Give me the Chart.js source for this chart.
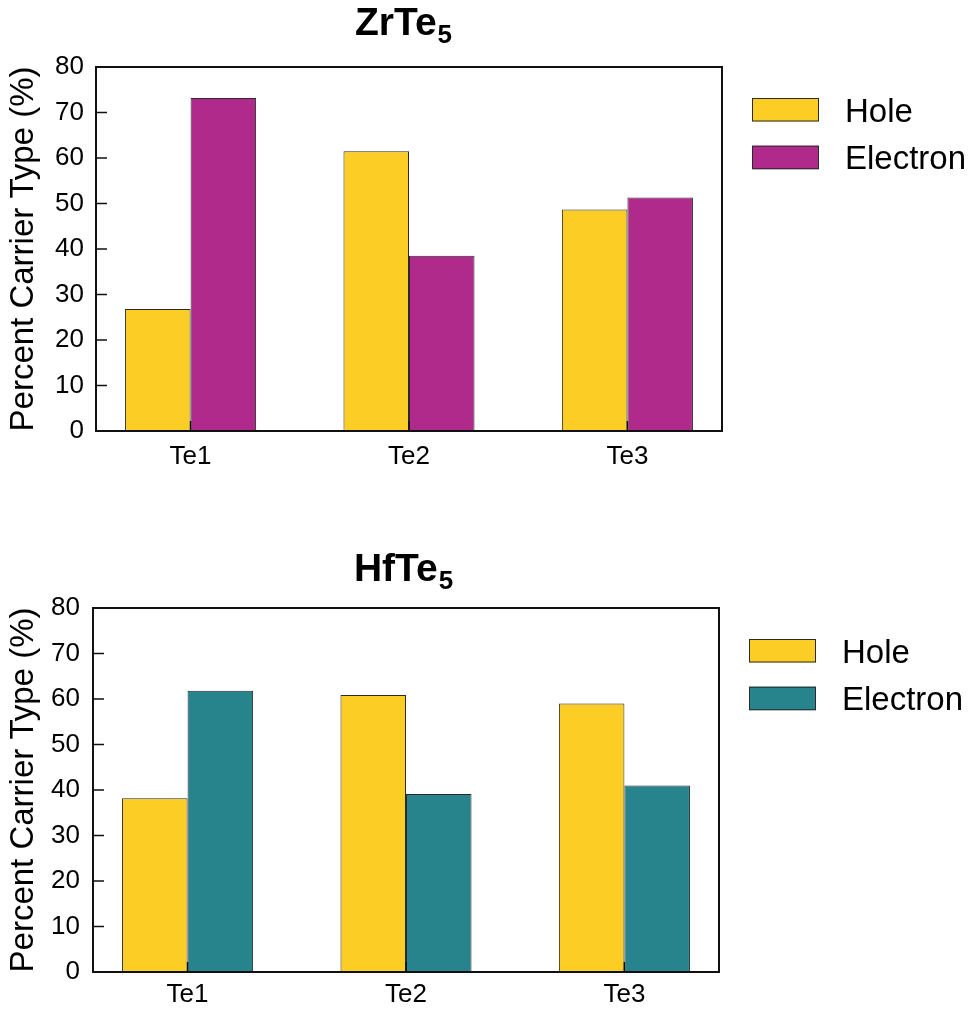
<!DOCTYPE html>
<html>
<head>
<meta charset="utf-8">
<script src="https://cdn.jsdelivr.net/npm/chart.js@4.4.0/dist/chart.umd.min.js"></script>
<style>
  html, body { margin: 0; padding: 0; background: #fff; }
  .wrap { position: relative; width: 974px; height: 1013px; }
  canvas { position: absolute; left: 0; }
  #zr-chart { top: 0; }
  #hf-chart { top: 500px; }
</style>
</head>
<body>
<div class="wrap">
  <canvas id="zr-chart" width="974" height="500"></canvas>
  <canvas id="hf-chart" width="974" height="513"></canvas>
</div>
<script>
const sites = ['Te1', 'Te2', 'Te3'];
const seriesNames = ['Hole', 'Electron'];

const zrHole = [26.8, 61.5, 48.7];
const zrElectron = [73.2, 38.5, 51.3];
const hfHole = [38.2, 60.9, 59.0];
const hfElectron = [61.8, 39.1, 41.0];

const holeColor = '#fccd25';
const zrElectronColor = '#b02a8c';
const hfElectronColor = '#27848d';
const edgeColor = '#2a2a2a';

const fontFamily = '"Liberation Sans", Arial, Helvetica, sans-serif';

// box round the plot, ticks pointing inward
const frameTicks = {
    id: 'frameTicks',
    afterDatasetsDraw(chart) {
        const {ctx, chartArea: a, scales: {x, y}} = chart;
        ctx.save();
        ctx.strokeStyle = '#111';
        ctx.lineWidth = 1.5;
        ctx.beginPath();
        y.ticks.forEach(t => {
            const py = y.getPixelForValue(t.value);
            ctx.moveTo(a.left, py);
            ctx.lineTo(a.left + 11, py);
        });
        x.ticks.forEach(t => {
            const px = x.getPixelForValue(t.value);
            ctx.moveTo(px, a.bottom);
            ctx.lineTo(px, a.bottom - 10);
        });
        ctx.stroke();
        ctx.lineWidth = 2;
        ctx.strokeRect(a.left, a.top, a.right - a.left, a.bottom - a.top);
        ctx.restore();
    }
};

// legend sits to the right of the frame, near its top
const sideLegend = {
    id: 'sideLegend',
    afterDraw(chart) {
        const {ctx, chartArea: a} = chart;
        ctx.save();
        chart.data.datasets.forEach((ds, i) => {
            const bx = a.right + 30;
            const by = a.top + 31 + i * 47.7;
            ctx.fillStyle = ds.backgroundColor;
            ctx.fillRect(bx, by, 67, 23.5);
            ctx.strokeStyle = edgeColor;
            ctx.lineWidth = 1;
            ctx.strokeRect(bx + 0.5, by + 0.5, 66, 22.5);
            ctx.fillStyle = '#000';
            ctx.font = '33px ' + fontFamily;
            ctx.textBaseline = 'alphabetic';
            ctx.fillText(ds.label, bx + 93, by + 23.5);
        });
        ctx.restore();
    }
};

// chemical formula title with a subscript
const formulaTitle = {
    id: 'formulaTitle',
    afterDraw(chart, args, opts) {
        const ctx = chart.ctx;
        ctx.save();
        ctx.fillStyle = '#000';
        ctx.textBaseline = 'alphabetic';
        ctx.font = 'bold 39px ' + fontFamily;
        const w1 = ctx.measureText(opts.main).width;
        ctx.font = 'bold 26px ' + fontFamily;
        const w2 = ctx.measureText(opts.sub).width;
        const x0 = opts.x - (w1 + w2) / 2;
        ctx.font = 'bold 39px ' + fontFamily;
        ctx.fillText(opts.main, x0, opts.y);
        ctx.font = 'bold 26px ' + fontFamily;
        ctx.fillText(opts.sub, x0 + w1 + 1, opts.y + 8);
        ctx.restore();
    }
};

function buildChart(id, hole, electron, electronColor, box) {
    const canvas = document.getElementById(id);
    const toPoints = vals => sites.map((s, i) => ({x: i + 1, y: vals[i]}));
    return new Chart(canvas, {
        type: 'bar',
        data: {
            datasets: [
                {
                    label: seriesNames[0],
                    data: toPoints(hole),
                    backgroundColor: holeColor,
                    borderColor: edgeColor,
                    borderWidth: 1
                },
                {
                    label: seriesNames[1],
                    data: toPoints(electron),
                    backgroundColor: electronColor,
                    borderColor: edgeColor,
                    borderWidth: 1
                }
            ]
        },
        options: {
            responsive: false,
            animation: false,
            categoryPercentage: 0.6,
            barPercentage: 1.0,
            layout: {
                padding: {top: box.top, right: box.right, left: 0, bottom: 0}
            },
            scales: {
                x: {
                    type: 'linear',
                    offset: false,
                    min: 0.567,
                    max: 3.433,
                    grid: {display: false, drawTicks: false},
                    border: {display: false},
                    afterBuildTicks: s => {
                        s.ticks = sites.map((n, i) => ({value: i + 1}));
                    },
                    afterFit: s => {
                        s.height = box.axisHeight;
                    },
                    ticks: {
                        autoSkip: false,
                        maxRotation: 0,
                        padding: box.xPad,
                        color: '#000',
                        font: {family: fontFamily, size: 26},
                        callback: v => sites[v - 1]
                    }
                },
                y: {
                    min: 0,
                    max: 80,
                    grid: {display: false, drawTicks: false},
                    border: {display: false},
                    afterFit: s => {
                        s.width = box.left;
                    },
                    ticks: {
                        stepSize: 10,
                        padding: box.yPad,
                        color: '#000',
                        font: {family: fontFamily, size: 26}
                    },
                    title: {
                        display: true,
                        text: 'Percent Carrier Type (%)',
                        color: '#000',
                        padding: {top: 4, bottom: 0},
                        font: {family: fontFamily, size: 33}
                    }
                }
            },
            plugins: {
                legend: {display: false},
                tooltip: {enabled: false},
                formulaTitle: box.title
            }
        },
        plugins: [frameTicks, sideLegend, formulaTitle]
    });
}

buildChart('zr-chart', zrHole, zrElectron, zrElectronColor, {
    top: 67, right: 252, left: 96, axisHeight: 69, xPad: 10, yPad: 12,
    title: {main: 'ZrTe', sub: '5', x: 403, y: 35}
});

buildChart('hf-chart', hfHole, hfElectron, hfElectronColor, {
    top: 108, right: 255, left: 93, axisHeight: 41, xPad: 7, yPad: 13,
    title: {main: 'HfTe', sub: '5', x: 403, y: 81}
});
</script>
</body>
</html>
